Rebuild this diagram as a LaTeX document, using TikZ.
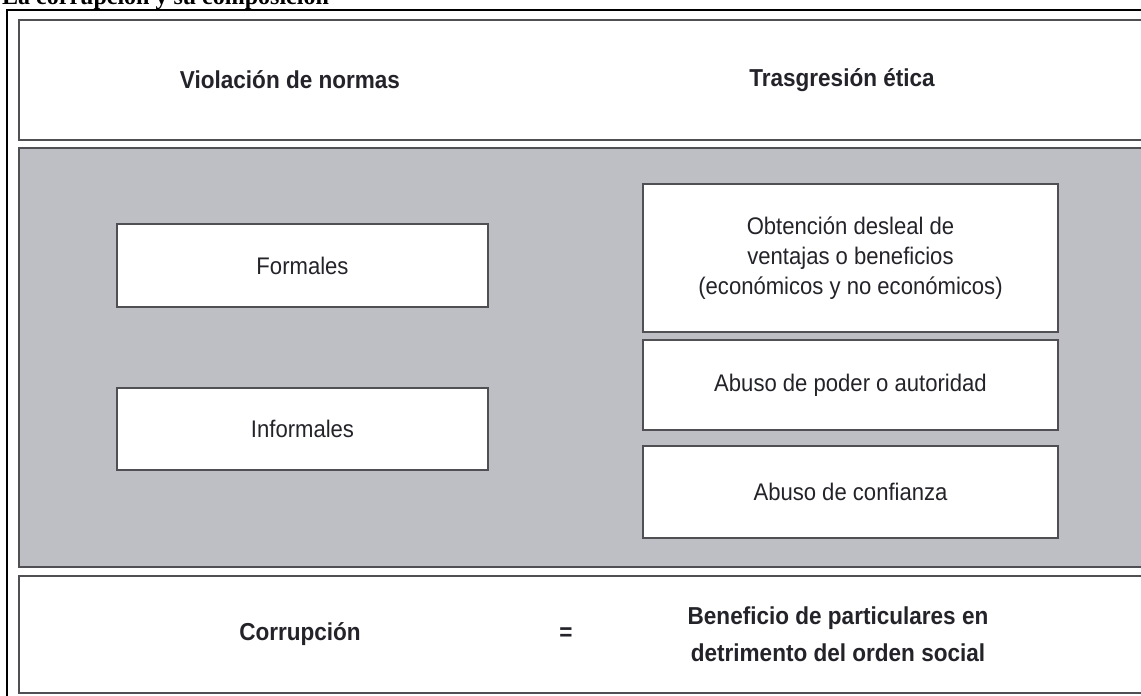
\documentclass[tikz,border=0pt]{standalone}
\usepackage{fontspec}
\setmainfont{Liberation Sans}[FakeStretch=0.92]
\newfontfamily\titlefont{Liberation Serif}
\definecolor{bandgray}{RGB}{190,191,196}
\definecolor{edgegray}{RGB}{80,80,84}
\definecolor{txt}{RGB}{35,35,42}
\tikzset{
  band/.style={draw=edgegray, line width=2pt},
  wbox/.style={draw=edgegray, line width=2.2pt, fill=white, inner sep=0pt, align=center,
    text=txt, font=\fontsize{24}{30}\selectfont},
  head/.style={text=txt, font=\bfseries\fontsize{24.5}{37}\selectfont, align=center, inner sep=0pt},
}
\begin{document}
\begin{tikzpicture}[x=1pt,y=1pt]
\useasboundingbox (0,0) rectangle (1141,696);
% partially visible title
\node[anchor=base west, inner sep=0pt, font=\titlefont\bfseries\fontsize{24}{28}\selectfont] (title) at (2,691) {La corrupción y su composición};
% outer frame
\draw[line width=2.5pt, black] (7,686) rectangle (1160,-20);
% bands
\draw[band, fill=white] (19,676) rectangle (1160,556);
\draw[band, fill=bandgray] (19,548) rectangle (1160,129);
\draw[band, fill=white] (19,120) rectangle (1160,3);
% headings
\node[head] (viol) at (290,616) {Violación de normas};
\node[head] (trasg) at (842,616) {Trasgresión ética};
% left boxes
\node[wbox, minimum width=371pt, minimum height=83pt] (formales) at (302.5,430.5) {Formales};
\node[wbox, minimum width=371pt, minimum height=82pt] (informales) at (302.5,267) {Informales};
% right boxes
\node[wbox, minimum width=415pt, minimum height=148pt] (obtencion) at (850.5,438) {Obtención desleal de\\ventajas o beneficios\\(económicos y no económicos)};
\node[wbox, minimum width=415pt, minimum height=90pt] (poder) at (850.5,311) {Abuso de poder o autoridad};
\node[wbox, minimum width=415pt, minimum height=92pt] (confianza) at (850.5,204) {Abuso de confianza};
% bottom row
\node[head] (corr) at (300,62) {Corrupción};
\node[head] (eq) at (566,62) {=};
\node[head] (benef) at (838,62) {Beneficio de particulares en\\detrimento del orden social};
\end{tikzpicture}
\end{document}
